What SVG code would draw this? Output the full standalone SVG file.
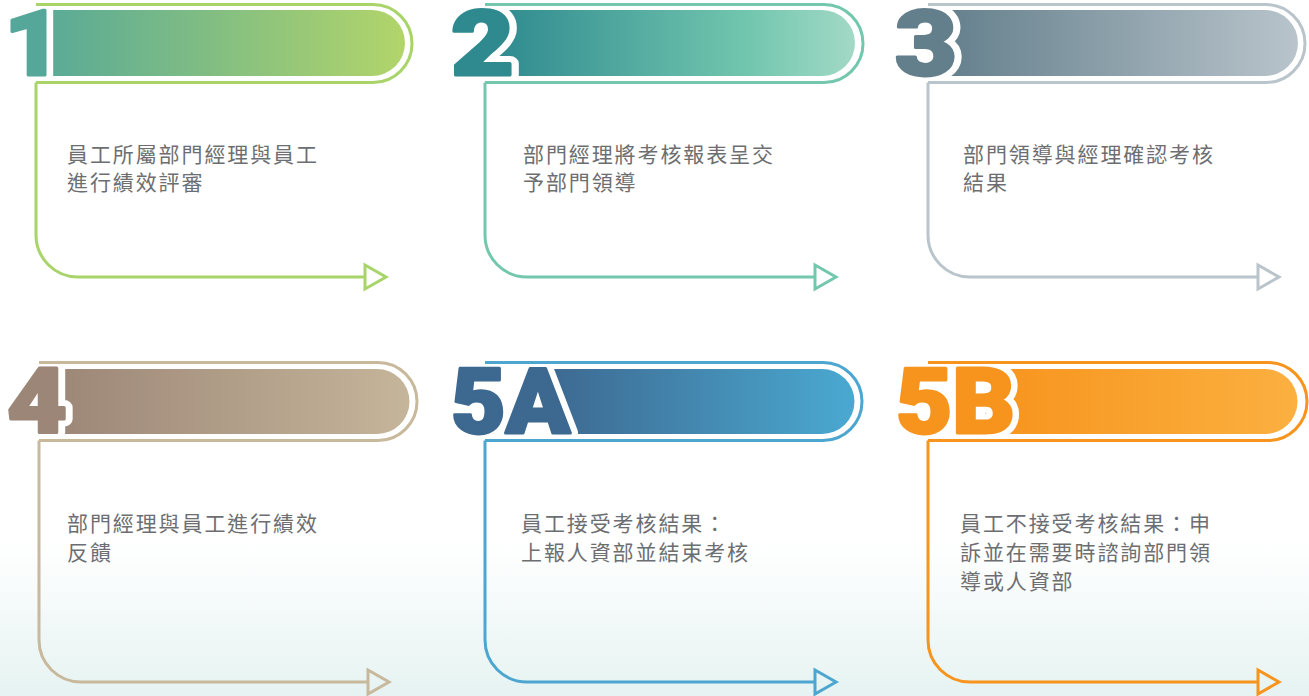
<svg xmlns="http://www.w3.org/2000/svg" width="1309" height="696" viewBox="0 0 1309 696">
<defs>
  <linearGradient id="bg" x1="0" y1="0" x2="0" y2="1">
    <stop offset="0.78" stop-color="#ffffff"/>
    <stop offset="1" stop-color="#e6f3f2"/>
  </linearGradient>
  <linearGradient id="g1"><stop offset="0" stop-color="#55a899"/><stop offset="1" stop-color="#b2d56a"/></linearGradient>
  <linearGradient id="g2"><stop offset="0" stop-color="#2f8a8f"/><stop offset="0.7" stop-color="#72c6ae"/><stop offset="1" stop-color="#a2d9c6"/></linearGradient>
  <linearGradient id="g3"><stop offset="0" stop-color="#637f8c"/><stop offset="1" stop-color="#b9c4cb"/></linearGradient>
  <linearGradient id="g4"><stop offset="0" stop-color="#9c8677"/><stop offset="1" stop-color="#c5b59a"/></linearGradient>
  <linearGradient id="g5"><stop offset="0" stop-color="#3d6890"/><stop offset="1" stop-color="#4aa9d1"/></linearGradient>
  <linearGradient id="g6"><stop offset="0" stop-color="#f7941d"/><stop offset="1" stop-color="#fbb040"/></linearGradient>
  <marker id="m1" markerUnits="userSpaceOnUse" markerWidth="28" markerHeight="30" refX="1.5" refY="13.5" orient="auto" overflow="visible"><path d="M1.5,1.5 L22.5,13.5 L1.5,25.5 Z" fill="none" stroke="#a8d46a" stroke-width="3"/></marker>
  <marker id="m2" markerUnits="userSpaceOnUse" markerWidth="28" markerHeight="30" refX="1.5" refY="13.5" orient="auto" overflow="visible"><path d="M1.5,1.5 L22.5,13.5 L1.5,25.5 Z" fill="none" stroke="#72c7ad" stroke-width="3"/></marker>
  <marker id="m3" markerUnits="userSpaceOnUse" markerWidth="28" markerHeight="30" refX="1.5" refY="13.5" orient="auto" overflow="visible"><path d="M1.5,1.5 L22.5,13.5 L1.5,25.5 Z" fill="none" stroke="#b9c4cb" stroke-width="3"/></marker>
  <marker id="m4" markerUnits="userSpaceOnUse" markerWidth="28" markerHeight="30" refX="1.5" refY="13.5" orient="auto" overflow="visible"><path d="M1.5,1.5 L22.5,13.5 L1.5,25.5 Z" fill="none" stroke="#c8b89c" stroke-width="3"/></marker>
  <marker id="m5" markerUnits="userSpaceOnUse" markerWidth="28" markerHeight="30" refX="1.5" refY="13.5" orient="auto" overflow="visible"><path d="M1.5,1.5 L22.5,13.5 L1.5,25.5 Z" fill="none" stroke="#4da6cf" stroke-width="3"/></marker>
  <marker id="m6" markerUnits="userSpaceOnUse" markerWidth="28" markerHeight="30" refX="1.5" refY="13.5" orient="auto" overflow="visible"><path d="M1.5,1.5 L22.5,13.5 L1.5,25.5 Z" fill="none" stroke="#f7941d" stroke-width="3"/></marker>
</defs>
<style>
  .frame { fill: none; stroke-width: 3; }
  .num { font-family: Roboto, "Liberation Sans", sans-serif; font-weight: 900; font-size: 90px; }
  .halo { fill: #ffffff; stroke: #ffffff; stroke-width: 15; stroke-linejoin: round; }
  .ink { stroke-width: 3; stroke-linejoin: round; }
  .desc { font-family: "Noto Sans CJK TC", "Noto Sans CJK SC", sans-serif; font-size: 21px; fill: #6d6e71; letter-spacing: 1.9px; }
  .conn { fill: none; stroke-width: 3; }
</style>
<rect x="0" y="0" width="1309" height="696" fill="url(#bg)"/>

<g id="step1">
  <path d="M30,10 H372 A33,33 0 0 1 372,76 H30 Z" fill="url(#g1)"/>
  <text class="num halo" x="4" y="75" textLength="58" lengthAdjust="spacingAndGlyphs">1</text>
  <path class="frame" stroke="#a8d46a" d="M36,4.5 H373 A39,39 0 0 1 373,82.5 H36"/>
  <text class="num ink" x="4" y="75" textLength="58" lengthAdjust="spacingAndGlyphs" fill="#55a899" stroke="#55a899">1</text>
  <text class="desc" x="67" y="161.5">員工所屬部門經理與員工</text>
  <text class="desc" x="67" y="189.5">進行績效評審</text>
</g>

<g id="step2">
  <path d="M495,10 H822 A33,33 0 0 1 822,76 H495 Z" fill="url(#g2)"/>
  <text class="num halo" x="451" y="75" textLength="63" lengthAdjust="spacingAndGlyphs">2</text>
  <path class="frame" stroke="#72c7ad" d="M485,4.5 H824 A39,39 0 0 1 824,82.5 H485"/>
  <text class="num ink" x="451" y="75" textLength="63" lengthAdjust="spacingAndGlyphs" fill="#2f8a8f" stroke="#2f8a8f">2</text>
  <text class="desc" x="523" y="161.5">部門經理將考核報表呈交</text>
  <text class="desc" x="523" y="189.5">予部門領導</text>
</g>

<g id="step3">
  <path d="M940,10 H1265 A33,33 0 0 1 1265,76 H940 Z" fill="url(#g3)"/>
  <text class="num halo" x="895" y="75" textLength="62" lengthAdjust="spacingAndGlyphs">3</text>
  <path class="frame" stroke="#b9c4cb" d="M928,4.5 H1266 A39,39 0 0 1 1266,82.5 H928"/>
  <text class="num ink" x="895" y="75" textLength="62" lengthAdjust="spacingAndGlyphs" fill="#637f8c" stroke="#637f8c">3</text>
  <text class="desc" x="963" y="161.5">部門領導與經理確認考核</text>
  <text class="desc" x="963" y="189.5">結果</text>
</g>

<g id="step4">
  <path d="M50,369 H377 A32.5,32.5 0 0 1 377,434 H50 Z" fill="url(#g4)"/>
  <text class="num halo" x="7" y="433" textLength="60" lengthAdjust="spacingAndGlyphs">4</text>
  <path class="frame" stroke="#c8b89c" d="M39,362.5 H378 A39,39 0 0 1 378,440.5 H39"/>
  <text class="num ink" x="7" y="433" textLength="60" lengthAdjust="spacingAndGlyphs" fill="#9c8677" stroke="#9c8677">4</text>
  <text class="desc" x="67" y="530.5">部門經理與員工進行績效</text>
  <text class="desc" x="67" y="559.5">反饋</text>
</g>

<g id="step5A">
  <path d="M545,369 H822 A32.5,32.5 0 0 1 822,434 H545 Z" fill="url(#g5)"/>
  <text class="num halo" x="451" y="433" textLength="119" lengthAdjust="spacingAndGlyphs">5A</text>
  <path class="frame" stroke="#4da6cf" d="M485,362.5 H823 A39,39 0 0 1 823,440.5 H485"/>
  <text class="num ink" x="451" y="433" textLength="119" lengthAdjust="spacingAndGlyphs" fill="#3d6890" stroke="#3d6890">5A</text>
  <text class="desc" x="521" y="530.5">員工接受考核結果：</text>
  <text class="desc" x="521" y="559.5">上報人資部並結束考核</text>
</g>

<g id="step5B">
  <path d="M985,369 H1265 A32.5,32.5 0 0 1 1265,434 H985 Z" fill="url(#g6)"/>
  <text class="num halo" x="896" y="433" textLength="119" lengthAdjust="spacingAndGlyphs">5B</text>
  <path class="frame" stroke="#f7941d" d="M928,362.5 H1268 A39,39 0 0 1 1268,440.5 H928"/>
  <text class="num ink" x="896" y="433" textLength="119" lengthAdjust="spacingAndGlyphs" fill="#f7941d" stroke="#f7941d">5B</text>
  <text class="desc" x="960" y="530.5">員工不接受考核結果：申</text>
  <text class="desc" x="960" y="559.5">訴並在需要時諮詢部門領</text>
  <text class="desc" x="960" y="588.5">導或人資部</text>
</g>

<g id="connectors">
  <path class="conn" stroke="#a8d46a" marker-end="url(#m1)" d="M36,82.5 V235 A42,42 0 0 0 78,277 H365"/>
  <path class="conn" stroke="#72c7ad" marker-end="url(#m2)" d="M485,82.5 V235 A42,42 0 0 0 527,277 H815"/>
  <path class="conn" stroke="#b9c4cb" marker-end="url(#m3)" d="M928,82.5 V235 A42,42 0 0 0 970,277 H1258"/>
  <path class="conn" stroke="#c8b89c" marker-end="url(#m4)" d="M39,440.5 V640 A42,42 0 0 0 81,682 H368"/>
  <path class="conn" stroke="#4da6cf" marker-end="url(#m5)" d="M485,440.5 V640 A42,42 0 0 0 527,682 H815"/>
  <path class="conn" stroke="#f7941d" marker-end="url(#m6)" d="M928,440.5 V640 A42,42 0 0 0 970,682 H1258"/>
</g>
</svg>
